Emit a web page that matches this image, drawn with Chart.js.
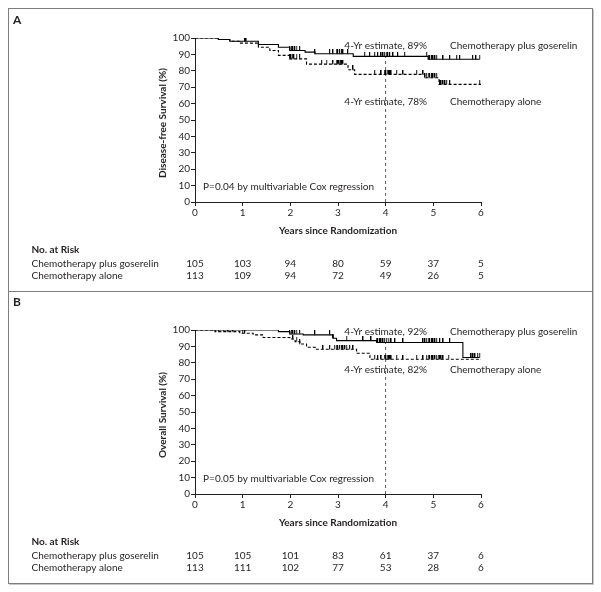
<!DOCTYPE html>
<html>
<head>
<meta charset="utf-8">
<title>Disease-free and Overall Survival</title>
<script src="https://cdn.jsdelivr.net/npm/chart.js@4.4.1/dist/chart.umd.min.js"></script>
<style>
  body { margin: 0; background: #fff; }
  #frame { position: absolute; left: 8px; top: 8px; width: 585px; height: 576px; box-sizing: border-box;
           border: 1px solid #7d7d7d; box-shadow: 1px 1px 0 #c8c8c8; }
  #divider { position: absolute; left: 8px; top: 291px; width: 585px; height: 1px; background: #7d7d7d; }
  #chartA { position: absolute; left: 8px; top: 8px; }
  #chartB { position: absolute; left: 8px; top: 292px; }
</style>
</head>
<body>
<div id="frame"></div>
<div id="divider"></div>
<canvas id="chartA" width="585" height="284"></canvas>
<canvas id="chartB" width="585" height="292"></canvas>
<script>
var FONT = "Lato";
var INK = "#231f20";

/// axes
var xTickValues = [0, 1, 2, 3, 4, 5, 6];
var yTickValues = [0, 10, 20, 30, 40, 50, 60, 70, 80, 90, 100];
var seriesNames = ["Chemotherapy plus goserelin", "Chemotherapy alone"];

/// Panel A - disease-free survival (step times in years, survival in %)
var dfsGoserelinT = [0, 0.49, 0.73, 1.33, 1.75, 1.99, 2.31, 2.52, 3.32, 4.89, 5.97];
var dfsGoserelinS = [100, 99.1, 98, 96, 94.4, 92.4, 91.4, 90.4, 88.8, 87, 87];
var dfsAloneT = [0, 0.49, 0.73, 0.94, 1.33, 1.57, 1.75, 1.99, 2.34, 3.21, 3.35, 4.82, 5.12, 6.0];
var dfsAloneS = [100, 99.1, 98, 96.9, 94.4, 92.4, 89.4, 87.3, 84.1, 80.6, 77.8, 75.8, 71.7, 71.7];
var dfsGoserelinCensor = [0.45, 1.05, 1.08, 1.99, 2.03, 2.06, 2.1, 2.13, 2.2, 2.52, 2.83, 2.9, 2.97, 3.0, 3.04,
  3.08, 3.11, 3.21, 3.56, 3.67, 3.77, 3.84, 3.91, 3.95, 3.98, 4.02, 4.05, 4.09, 4.16, 4.26, 4.4,
  4.86, 4.9, 4.93, 4.97, 5.0, 5.04, 5.07, 5.21, 5.35, 5.49, 5.56, 5.83, 5.9, 5.97];
var dfsAloneCensor = [1.99, 2.02, 2.05, 2.08, 2.13, 2.2, 2.66, 2.76, 2.9, 2.97, 3.0, 3.03, 3.06, 3.09, 3.11,
  3.32, 3.77, 3.91, 3.98, 4.01, 4.04, 4.07, 4.1, 4.12, 4.23, 4.37, 4.65, 4.79, 4.83, 4.86, 4.9, 4.93,
  4.97, 5.0, 5.04, 5.07, 5.14, 5.17, 5.21, 5.25, 5.28, 5.35, 5.97];
var dfsEstimates = [89, 78];
var dfsRiskGoserelin = [105, 103, 94, 80, 59, 37, 5];
var dfsRiskAlone = [113, 109, 94, 72, 49, 26, 5];

/// Panel B - overall survival
var osGoserelinT = [0, 1.75, 1.99, 2.27, 2.9, 2.97, 3.81, 5.62, 5.97];
var osGoserelinS = [100, 99, 97.6, 97, 95, 93.5, 92.4, 83.2, 83.2];
var osAloneT = [0, 0.42, 0.94, 1.22, 1.43, 1.99, 2.1, 2.2, 2.34, 2.52, 3.39, 3.67, 6.0];
var osAloneS = [100, 99, 98, 97, 95.4, 94.5, 92.9, 91.5, 89.5, 88.3, 85.8, 82.2, 82.2];
var osGoserelinCensor = [0.14, 0.45, 1.05, 1.08, 1.99, 2.03, 2.06, 2.1, 2.13, 2.2, 2.52, 2.83, 2.9, 3.18,
  3.53, 3.7, 3.81, 3.84, 3.88, 3.91, 3.95, 3.98, 4.02, 4.06, 4.12, 4.2, 4.37, 4.79, 4.83, 4.86, 4.9,
  4.93, 4.97, 5.0, 5.04, 5.07, 5.14, 5.21, 5.35, 5.8, 5.84, 5.88, 5.93, 5.97];
var osAloneCensor = [0.5, 0.6, 0.7, 0.8, 1.0, 1.05, 2.06, 2.13, 2.2, 2.69, 2.83, 2.93, 2.97, 3.0, 3.04, 3.08,
  3.11, 3.15, 3.18, 3.25, 3.32, 3.77, 3.84, 3.91, 3.98, 4.01, 4.04, 4.07, 4.1, 4.12, 4.23, 4.37,
  4.65, 4.79, 4.86, 4.9, 4.93, 4.97, 5.0, 5.04, 5.07, 5.11, 5.14, 5.17, 5.21, 5.32];
var osEstimates = [92, 82];
var osRiskGoserelin = [105, 105, 101, 83, 61, 37, 6];
var osRiskAlone = [113, 111, 102, 77, 53, 28, 6];

///Survival at time t from a step curve
function survAt(T, S, t) {
  var v = S[0];
  for (var i = 0; i < T.length; i++) {
    if (T[i] <= t) v = S[i];
  }
  return v;
}

function stepPoints(T, S) {
  return T.map(function (t, i) { return { x: t, y: S[i] }; });
}

function censorPoints(T, S, C) {
  return C.map(function (t) { return { x: t, y: survAt(T, S, t) }; });
}

///Censor tick: short vertical mark standing on the curve
var tickImg = document.createElement("canvas");
tickImg.width = 2;
tickImg.height = 9;
var tctx = tickImg.getContext("2d");
tctx.fillStyle = "#000";
tctx.fillRect(0, 0, 1.2, 4.5);

///Text around each plot
var panelText = {
  id: "panelText",
  afterDraw: function (chart, args, o) {
    var ctx = chart.ctx;
    var xs = chart.scales.x;
    var ys = chart.scales.y;
    var area = chart.chartArea;
    ctx.save();
    ctx.fillStyle = INK;
    ctx.textBaseline = "middle";

    ctx.font = "bold 12px " + FONT;
    ctx.textAlign = "left";
    ctx.fillText(o.letter, 5, o.letterY);

    ctx.save();
    ctx.translate(155, (area.top + area.bottom) / 2 + 3);
    ctx.rotate(-Math.PI / 2);
    ctx.textAlign = "center";
    ctx.font = "bold 10px " + FONT;
    ctx.fillText(o.yTitle, 0, 0);
    ctx.restore();

    ctx.font = "bold 10px " + FONT;
    ctx.textAlign = "center";
    ctx.fillText("Years since Randomization", (area.left + area.right) / 2, area.bottom + 29);

    ctx.font = "10px " + FONT;
    ctx.textAlign = "center";
    ctx.fillText("4-Yr estimate, " + o.estimates[0] + "%", xs.getPixelForValue(4), ys.getPixelForValue(o.textY[0]));
    ctx.fillText("4-Yr estimate, " + o.estimates[1] + "%", xs.getPixelForValue(4), ys.getPixelForValue(o.textY[1]));
    ctx.textAlign = "left";
    ctx.fillText(seriesNames[0], xs.getPixelForValue(5.35), ys.getPixelForValue(o.textY[0]));
    ctx.fillText(seriesNames[1], xs.getPixelForValue(5.35), ys.getPixelForValue(o.textY[1]));
    ctx.fillText(o.pText, xs.getPixelForValue(0.17), ys.getPixelForValue(9));

    ///No. at Risk table
    ctx.font = "bold 10px " + FONT;
    ctx.fillText("No. at Risk", 23.5, area.bottom + 48);
    ctx.font = "10px " + FONT;
    ctx.fillText(seriesNames[0], 23.5, area.bottom + 62);
    ctx.fillText(seriesNames[1], 23.5, area.bottom + 74);
    ctx.textAlign = "center";
    for (var i = 0; i < xTickValues.length; i++) {
      var px = xs.getPixelForValue(xTickValues[i]);
      ctx.fillText(String(o.riskA[i]), px, area.bottom + 62);
      ctx.fillText(String(o.riskB[i]), px, area.bottom + 74);
    }
    ctx.restore();
  },
};

function makeChart(id, top, d) {
  var ctx = document.getElementById(id);
  return new Chart(ctx, {
    type: "scatter",
    data: {
      datasets: [
        {
          label: seriesNames[0],
          data: stepPoints(d.gT, d.gS),
          showLine: true,
          stepped: true,
          borderColor: "#000",
          borderWidth: 1.1,
          pointRadius: 0,
          fill: false,
        },
        {
          label: seriesNames[1],
          data: stepPoints(d.aT, d.aS),
          showLine: true,
          stepped: true,
          borderColor: "#000",
          borderWidth: 1.1,
          borderDash: [3, 2],
          pointRadius: 0,
          fill: false,
        },
        {
          label: "censored",
          data: censorPoints(d.gT, d.gS, d.gC),
          showLine: false,
          pointStyle: tickImg,
        },
        {
          label: "censored",
          data: censorPoints(d.aT, d.aS, d.aC),
          showLine: false,
          pointStyle: tickImg,
        },
        {
          label: "4-yr",
          data: [{ x: 4, y: 0 }, { x: 4, y: d.est[0] }],
          showLine: true,
          borderColor: "#333",
          borderWidth: 0.8,
          borderDash: [3, 3],
          pointRadius: 0,
        },
      ],
    },
    options: {
      responsive: false,
      animation: false,
      devicePixelRatio: 1,
      layout: { padding: { left: 147, right: 112, top: top, bottom: 70 } },
      plugins: {
        legend: { display: false },
        tooltip: { enabled: false },
        panelText: {
          letter: d.letter,
          letterY: d.letterY,
          yTitle: d.yTitle,
          estimates: d.est,
          textY: d.textY,
          pText: d.pText,
          riskA: d.riskG,
          riskB: d.riskA,
        },
      },
      scales: {
        x: {
          type: "linear",
          min: 0,
          max: 6,
          afterBuildTicks: function (s) {
            s.ticks = xTickValues.map(function (v) { return { value: v }; });
          },
          afterFit: function (s) { s.height = 20; },
          ticks: { font: { family: FONT, size: 10 }, color: INK, padding: 1 },
          grid: { drawOnChartArea: false, drawTicks: true, tickLength: 4, color: INK },
          border: { color: INK, width: 1 },
        },
        y: {
          min: 0,
          max: 100,
          afterBuildTicks: function (s) {
            s.ticks = yTickValues.map(function (v) { return { value: v }; });
          },
          afterFit: function (s) { s.width = 40; },
          ticks: { font: { family: FONT, size: 10 }, color: INK, padding: 1 },
          grid: { drawOnChartArea: false, drawTicks: true, tickLength: 4, color: INK },
          border: { color: INK, width: 1 },
        },
      },
    },
    plugins: [panelText],
  });
}

makeChart("chartA", 30, {
  letter: "A", letterY: 12.5, yTitle: "Disease-free Survival (%)",
  gT: dfsGoserelinT, gS: dfsGoserelinS, aT: dfsAloneT, aS: dfsAloneS,
  gC: dfsGoserelinCensor, aC: dfsAloneCensor,
  est: dfsEstimates, textY: [95.4, 61], pText: "P=0.04 by multivariable Cox regression",
  riskG: dfsRiskGoserelin, riskA: dfsRiskAlone,
});

makeChart("chartB", 38, {
  letter: "B", letterY: 10.5, yTitle: "Overall Survival (%)",
  gT: osGoserelinT, gS: osGoserelinS, aT: osAloneT, aS: osAloneS,
  gC: osGoserelinCensor, aC: osAloneCensor,
  est: osEstimates, textY: [99, 75.7], pText: "P=0.05 by multivariable Cox regression",
  riskG: osRiskGoserelin, riskA: osRiskAlone,
});
</script>
</body>
</html>
